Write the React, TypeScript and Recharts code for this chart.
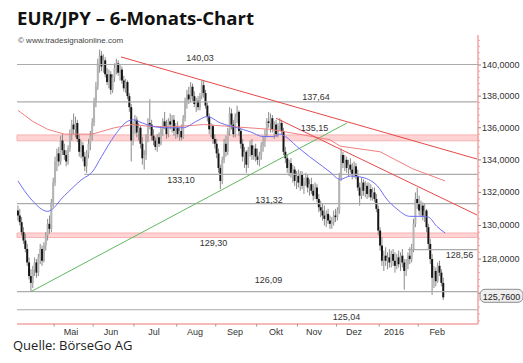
import React from 'react';
import {
  ComposedChart,
  Bar,
  Line,
  XAxis,
  YAxis,
  ReferenceLine,
  ReferenceArea,
  ReferenceDot,
} from 'recharts';

// daily bars: [open, high, low, close]
type Ohlc = [number, number, number, number];

const apr: Ohlc[] = [
  [130.9, 131.2, 130.3, 130.6], [130.6, 131.0, 130.0, 130.2], [130.2, 130.5, 129.4, 129.6],
  [129.6, 129.9, 128.9, 129.1], [129.1, 129.5, 128.4, 128.6], [128.6, 128.9, 127.6, 127.8],
  [127.8, 128.1, 126.8, 127.0], [127.0, 127.4, 126.1, 126.6], [126.6, 127.6, 126.3, 127.4],
  [127.4, 128.1, 127.0, 127.8], [127.8, 128.0, 126.9, 127.2], [127.2, 128.3, 127.0, 128.1],
  [128.1, 128.9, 127.7, 128.6], [128.6, 128.8, 127.6, 127.9], [127.9, 129.0, 127.8, 128.8],
  [128.8, 129.6, 128.5, 129.4], [129.4, 130.4, 129.1, 130.1], [130.1, 130.6, 129.5, 129.8],
  [129.8, 131.6, 129.6, 131.4], [131.4, 132.9, 131.1, 132.6],
];
const may: Ohlc[] = [
  [132.6, 134.2, 132.4, 133.9], [133.9, 134.7, 133.3, 134.4], [134.4, 134.8, 133.6, 133.9],
  [133.9, 135.5, 133.7, 135.2], [135.2, 135.6, 134.3, 134.6], [134.6, 135.0, 134.0, 134.3],
  [134.3, 134.6, 133.6, 133.9], [133.9, 134.9, 133.7, 134.7], [134.7, 135.9, 134.5, 135.6],
  [135.6, 136.5, 135.2, 136.2], [136.2, 136.9, 135.6, 135.9], [135.9, 136.7, 135.4, 136.3],
  [136.3, 136.5, 135.1, 135.3], [135.3, 135.6, 134.2, 134.5], [134.5, 135.2, 134.1, 134.9],
  [134.9, 135.1, 133.9, 134.2], [134.2, 134.5, 133.3, 133.6], [133.6, 134.6, 133.2, 134.4],
  [134.4, 135.3, 134.1, 135.0], [135.0, 135.8, 134.6, 135.5], [135.5, 136.6, 135.2, 136.3],
];
const jun: Ohlc[] = [
  [136.3, 137.9, 136.1, 137.6], [137.6, 138.9, 137.3, 138.6], [138.6, 140.4, 138.4, 140.1],
  [140.1, 141.0, 139.5, 140.6], [140.6, 140.9, 139.6, 139.9], [139.9, 140.7, 139.5, 140.3],
  [140.3, 140.5, 139.2, 139.4], [139.4, 139.8, 138.7, 138.9], [138.9, 139.7, 138.5, 139.4],
  [139.4, 139.6, 138.1, 138.4], [138.4, 139.4, 138.2, 139.2], [139.2, 140.1, 138.9, 139.8],
  [139.8, 140.4, 139.4, 140.1], [140.1, 140.3, 139.3, 139.5], [139.5, 140.0, 139.0, 139.7],
  [139.7, 139.9, 138.8, 139.0], [139.0, 139.3, 138.3, 138.5], [138.5, 139.1, 138.2, 138.9],
  [138.9, 139.0, 137.8, 138.0], [138.0, 138.2, 137.0, 137.3], [137.3, 137.5, 133.9, 135.2],
  [135.2, 136.4, 134.9, 136.1],
];
const jul: Ohlc[] = [
  [136.1, 136.8, 135.6, 136.5], [136.5, 136.7, 135.4, 135.7], [135.7, 136.3, 135.2, 136.0],
  [136.0, 136.1, 134.7, 135.0], [135.0, 135.4, 133.7, 134.1], [134.1, 134.6, 133.4, 134.3],
  [134.3, 135.6, 134.0, 135.4], [135.4, 136.6, 135.1, 136.3], [136.3, 137.8, 135.9, 136.2],
  [136.2, 136.5, 135.2, 135.5], [135.5, 135.9, 134.9, 135.2], [135.2, 135.4, 134.6, 134.8],
  [134.8, 135.6, 134.5, 135.4], [135.4, 135.7, 134.8, 135.0], [135.0, 136.1, 134.9, 135.9],
  [135.9, 136.6, 135.5, 136.4], [136.4, 137.0, 135.9, 136.1], [136.1, 136.5, 135.3, 135.6],
  [135.6, 136.6, 135.4, 136.4], [136.4, 136.9, 135.9, 136.2], [136.2, 136.8, 135.7, 136.5],
  [136.5, 136.8, 135.5, 135.8], [135.8, 136.3, 135.3, 136.0],
];
const aug: Ohlc[] = [
  [136.0, 136.4, 135.4, 135.6], [135.6, 136.0, 135.2, 135.8], [135.8, 136.2, 135.2, 135.4],
  [135.4, 136.8, 135.3, 136.6], [136.6, 137.9, 136.4, 137.7], [137.7, 138.4, 137.2, 138.1],
  [138.1, 138.6, 137.5, 137.8], [137.8, 138.9, 137.6, 138.6], [138.6, 138.8, 137.7, 138.0],
  [138.0, 138.3, 137.3, 137.5], [137.5, 137.9, 137.0, 137.7], [137.7, 138.0, 137.1, 137.3],
  [137.3, 138.2, 137.1, 138.0], [138.0, 139.0, 137.8, 138.7], [138.7, 139.0, 137.9, 138.2],
  [138.2, 138.4, 137.2, 137.4], [137.4, 137.6, 136.4, 136.7], [136.7, 136.9, 135.6, 135.9],
  [135.9, 136.3, 135.4, 136.1], [136.1, 136.2, 135.0, 135.3], [135.3, 135.6, 134.7, 135.0],
];
const sep: Ohlc[] = [
  [135.0, 135.3, 134.1, 134.4], [134.4, 134.7, 133.2, 133.5], [133.5, 133.7, 132.2, 132.7],
  [132.7, 134.2, 132.5, 134.0], [134.0, 135.3, 133.8, 135.0], [135.0, 135.5, 134.2, 134.5],
  [134.5, 136.0, 134.3, 135.8], [135.8, 137.3, 135.5, 136.9], [136.9, 137.2, 135.9, 136.2],
  [136.2, 136.5, 135.4, 135.6], [135.6, 136.9, 135.4, 136.7], [136.7, 137.4, 136.3, 137.0],
  [137.0, 137.1, 135.5, 135.8], [135.8, 136.0, 134.7, 135.0], [135.0, 135.3, 133.9, 134.2],
  [134.2, 134.8, 133.5, 134.5], [134.5, 134.6, 133.2, 133.7], [133.7, 134.8, 133.5, 134.6],
  [134.6, 135.2, 134.2, 134.9], [134.9, 135.3, 134.0, 134.3], [134.3, 134.9, 134.0, 134.7],
  [134.7, 135.0, 133.9, 134.2],
];
const oct: Ohlc[] = [
  [134.2, 134.7, 133.7, 134.0], [134.0, 134.5, 133.6, 134.3], [134.3, 135.1, 134.0, 134.9],
  [134.9, 135.5, 134.5, 135.2], [135.2, 135.9, 134.8, 135.6], [135.6, 136.6, 135.4, 136.4],
  [136.4, 137.0, 136.0, 136.3], [136.3, 136.9, 135.7, 136.6], [136.6, 136.8, 135.7, 135.9],
  [135.9, 136.4, 135.3, 136.2], [136.2, 136.5, 135.4, 135.6], [135.6, 136.3, 135.4, 136.1],
  [136.1, 136.6, 135.8, 136.3], [136.3, 136.5, 135.6, 135.8], [135.8, 136.0, 134.3, 134.5],
  [134.5, 134.8, 133.8, 134.1], [134.1, 134.3, 133.2, 133.5], [133.5, 134.0, 133.0, 133.8],
  [133.8, 134.1, 132.9, 133.2], [133.2, 133.7, 132.6, 133.4], [133.4, 133.6, 132.4, 132.7],
  [132.7, 133.3, 132.2, 133.0],
];
const nov: Ohlc[] = [
  [133.0, 133.4, 132.3, 132.6], [132.6, 133.3, 132.1, 133.1], [133.1, 133.3, 132.2, 132.4],
  [132.4, 132.9, 131.9, 132.6], [132.6, 133.2, 132.4, 132.9], [132.9, 133.1, 132.0, 132.3],
  [132.3, 132.8, 131.8, 132.5], [132.5, 132.9, 131.9, 132.1], [132.1, 132.5, 131.5, 131.8],
  [131.8, 132.6, 131.6, 132.3], [132.3, 132.5, 131.4, 131.6], [131.6, 131.9, 130.8, 131.1],
  [131.1, 131.5, 130.5, 130.9], [130.9, 131.3, 130.3, 130.6], [130.6, 131.2, 130.0, 130.4],
  [130.4, 130.9, 129.9, 130.7], [130.7, 131.0, 130.1, 130.3], [130.3, 130.6, 129.8, 130.1],
  [130.1, 130.5, 129.8, 130.2], [130.2, 130.9, 130.0, 130.6], [130.6, 131.0, 130.2, 130.5],
];
const dec: Ohlc[] = [
  [130.5, 131.1, 130.3, 130.9], [130.9, 133.2, 130.7, 132.9], [132.9, 134.7, 132.7, 134.3],
  [134.3, 134.5, 133.5, 133.8], [133.8, 134.3, 133.3, 134.0], [134.0, 134.2, 133.2, 133.5],
  [133.5, 134.0, 133.0, 133.7], [133.7, 134.1, 133.2, 133.4], [133.4, 133.8, 132.8, 133.1],
  [133.1, 133.9, 132.9, 133.6], [133.6, 133.8, 132.8, 133.0], [133.0, 133.4, 132.1, 132.3],
  [132.3, 132.6, 131.2, 131.8], [131.8, 132.9, 131.6, 132.6], [132.6, 132.8, 131.8, 132.1],
  [132.1, 132.7, 131.7, 132.4], [132.4, 132.6, 131.6, 131.9], [131.9, 132.6, 131.7, 132.2],
  [132.2, 132.5, 131.5, 131.7], [131.7, 132.3, 131.5, 132.0], [132.0, 132.3, 131.4, 131.6],
  [131.6, 131.9, 130.8, 131.0], [131.0, 131.2, 129.4, 129.7],
];
const jan: Ohlc[] = [
  [129.7, 129.9, 128.5, 128.8], [128.8, 129.3, 127.6, 127.9], [127.9, 128.5, 127.3, 128.2],
  [128.2, 128.7, 127.6, 127.9], [127.9, 128.4, 127.4, 128.1], [128.1, 128.6, 127.5, 127.8],
  [127.8, 128.5, 127.5, 128.3], [128.3, 128.6, 127.6, 127.9], [127.9, 128.4, 127.2, 127.6],
  [127.6, 128.3, 127.4, 128.1], [128.1, 128.5, 127.5, 127.7], [127.7, 128.4, 127.3, 128.2],
  [128.2, 128.6, 127.5, 127.8], [127.8, 128.0, 126.2, 127.3], [127.3, 128.0, 127.0, 127.7],
  [127.7, 128.4, 127.4, 128.2], [128.2, 128.7, 127.7, 128.0], [128.0, 128.9, 127.8, 128.6],
  [128.6, 130.4, 128.4, 130.1], [130.1, 132.0, 129.9, 131.6], [131.6, 132.3, 131.0, 131.3],
];
const feb: Ohlc[] = [
  [131.3, 131.8, 130.6, 130.9], [130.9, 131.5, 130.5, 131.2], [131.2, 131.4, 130.3, 130.6],
  [130.6, 131.3, 130.2, 130.9], [130.9, 131.0, 129.6, 129.9], [129.9, 130.1, 128.6, 128.9],
  [128.9, 129.2, 127.7, 128.0], [128.0, 128.3, 125.9, 126.9], [126.9, 127.6, 126.3, 127.3],
  [127.3, 127.5, 126.4, 126.7], [126.7, 127.8, 126.6, 127.6], [127.6, 127.9, 127.0, 127.2],
  [127.2, 127.4, 126.4, 126.6], [126.6, 126.9, 125.6, 125.76],
];

// moving averages: [bar index, value]
const maBlue: [number, number][] = [
  [0, 132.7], [7, 131.6], [16, 130.85], [25, 131.8], [34.5, 132.8], [40, 133.25],
  [45, 134.2], [52, 135.5], [59, 136.4], [62, 136.5], [67, 136.3], [74, 136.05],
  [81, 136.0], [89, 136.0], [96, 136.4], [102, 136.7], [109, 136.3], [118, 136.0],
  [125, 135.75], [132, 135.45], [137.5, 135.45], [141, 135.6], [144, 135.45],
  [150, 134.85], [157, 134.2], [164, 133.6], [168, 133.25], [173.5, 132.8],
  [179, 133.0], [184, 132.95], [193.5, 132.4], [198.5, 131.6], [204, 131.0],
  [211, 130.55], [216.5, 130.55], [221, 130.5], [225.5, 129.95], [230, 129.55],
];
const maRed: [number, number][] = [
  [0, 137.1], [8, 136.4], [16, 135.9], [25, 135.6], [40, 135.6], [52, 136.0],
  [61.5, 136.2], [70, 136.1], [82, 136.05], [100, 136.2], [118, 136.05],
  [136, 135.9], [153.5, 135.55], [168, 135.25], [173.5, 134.85], [195, 134.5],
  [212.5, 133.45], [230, 132.7],
];

// trend lines: [bar index, value]
const trendHigh: [number, number][] = [[55.5, 140.52], [247.2, 134.05]];
const trendOct: [number, number][] = [[139.0, 136.6], [247.2, 130.63]];
const trendLow: [number, number][] = [[7.0, 126.09], [177.2, 136.3]];

const levels = [140.03, 137.64, 131.32, 126.09, 125.04];
const zones: [number, number][] = [[135.18, 135.55], [129.28, 129.55]];

const monthNames = ['Mai', 'Jun', 'Jul', 'Aug', 'Sep', 'Okt', 'Nov', 'Dez', '2016', 'Feb'];
const monthMid = [28.6, 50.1, 73.3, 95.4, 116.9, 139, 159.4, 181, 202.5, 225.7];
const monthStart = [19.5, 40.5, 62.5, 85.5, 106.5, 128.5, 150.5, 171.5, 194.5, 215.5];

const lastPrice = 125.76;

const candles = [apr, may, jun, jul, aug, sep, oct, nov, dec, jan, feb]
  .flat()
  .map((b, i) => ({ i, o: b[0], h: b[1], l: b[2], c: b[3] }));
const toPts = (arr: [number, number][]) => arr.map(([i, v]) => ({ i, v }));

const yTicks = Array.from({ length: 44 }, (_, k) => +(124.4 + k * 0.4).toFixed(1));
const fmt = (v: number, d: number) => v.toFixed(d).replace('.', ',');

const PINK = '#f5a3a3';
const GREY_LINE = '#ababab';

function Candle(props: any) {
  const { x, y, width, height, payload } = props;
  if (!payload || height == null || isNaN(y)) return null;
  const top = Math.min(y, y + height);
  const h = Math.abs(height);
  const cx = x + width / 2;
  const lh = Math.log(payload.h);
  const ll = Math.log(payload.l);
  const py = (v: number) => top + (h * (lh - Math.log(v))) / (lh - ll || 1);
  const bTop = py(Math.max(payload.o, payload.c));
  const bBot = py(Math.min(payload.o, payload.c));
  const down = payload.c < payload.o;
  return (
    <g>
      <line x1={cx} x2={cx} y1={top} y2={top + h} stroke="#8a8a8a" strokeWidth={1} />
      <rect
        x={cx - 1}
        y={bTop}
        width={2}
        height={Math.max(1, bBot - bTop)}
        fill={down ? '#151515' : '#b4b4b4'}
      />
    </g>
  );
}

function MonthTick(props: any) {
  const { x, y, payload } = props;
  const k = monthMid.indexOf(payload.value);
  if (k < 0) {
    return <line x1={x} x2={x} y1={y} y2={y + 2.5} stroke="#999" strokeWidth={1} />;
  }
  return (
    <text x={x} y={y + 11} textAnchor="middle" fontSize={9} fill="#333">
      {monthNames[k]}
    </text>
  );
}

function PriceTick(props: any) {
  const { x, y, payload } = props;
  const v = payload.value;
  if (Math.abs(v % 2) > 0.01) {
    return <line x1={x} x2={x + 2} y1={y} y2={y} stroke={PINK} strokeWidth={1} />;
  }
  return (
    <g>
      <line x1={x} x2={x + 3} y1={y} y2={y} stroke="#888" strokeWidth={1} />
      <text x={x + 4} y={y + 3} fontSize={9} fill="#333">
        {fmt(v, 4)}
      </text>
    </g>
  );
}

function PriceTag(props: any) {
  const vb = props.viewBox;
  if (!vb) return null;
  const x = vb.x + vb.width + 2;
  const y = vb.y;
  return (
    <g>
      <rect x={x} y={y - 8} width={43} height={13} rx={5} fill="#eeeeee" stroke="#8c8c8c" />
      <text x={x + 21.5} y={y + 2.5} textAnchor="middle" fontSize={9} fill="#222">
        {fmt(lastPrice, 4)}
      </text>
    </g>
  );
}

const lbl = (value: string, position: 'top' | 'bottom', offset: number) => ({
  value,
  position,
  offset,
  fontSize: 9,
  fill: '#333',
});

export default function App() {
  return (
    <div style={{ position: 'absolute', left: 0, top: 0, width: 523, height: 363, background: '#fff' }}>
      <ComposedChart
        width={523}
        height={363}
        data={candles}
        margin={{ top: 35, right: 0, bottom: 19, left: 17 }}
        style={{ fontFamily: '"Liberation Sans", Arial, sans-serif' }}
      >
        <XAxis
          dataKey="i"
          type="number"
          domain={[-0.5, 247.7]}
          allowDataOverflow
          ticks={[...monthStart, ...monthMid]}
          interval={0}
          tickLine={false}
          tickSize={0}
          tickMargin={0}
          axisLine={{ stroke: PINK, strokeWidth: 1.5 }}
          tick={<MonthTick />}
          height={20}
        />
        <YAxis
          orientation="right"
          type="number"
          scale="log"
          domain={[124.22, 141.95]}
          allowDataOverflow
          ticks={yTicks}
          interval={0}
          tickLine={false}
          tickSize={0}
          tickMargin={0}
          axisLine={{ stroke: PINK, strokeWidth: 1.5 }}
          tick={<PriceTick />}
          width={45}
        />
        {zones.map(([a, b]) => (
          <ReferenceArea key={a} y1={a} y2={b} fill="#ffd3d3" fillOpacity={1} stroke="#f6b3b3" strokeWidth={1} />
        ))}
        {levels.map((v) => (
          <ReferenceLine key={v} y={v} stroke={GREY_LINE} strokeWidth={1.2} />
        ))}
        <ReferenceLine segment={[{ x: 35.8, y: 133.1 }, { x: 247.7, y: 133.1 }]} stroke={GREY_LINE} strokeWidth={1.2} />
        <ReferenceLine segment={[{ x: 210, y: 128.56 }, { x: 247.7, y: 128.56 }]} stroke={GREY_LINE} strokeWidth={1.2} />

        <Line data={toPts(trendLow)} dataKey="v" stroke="#62b862" strokeWidth={1} dot={false} isAnimationActive={false} />
        <Line data={toPts(maRed)} dataKey="v" stroke="#f07f7f" strokeWidth={1} dot={false} isAnimationActive={false} />
        <Line data={toPts(maBlue)} dataKey="v" type="monotone" stroke="#6e6ef2" strokeWidth={1} dot={false} isAnimationActive={false} />
        <Bar
          dataKey={(d: any) => [d.l, d.h]}
          barSize={2}
          shape={(p: any) => <Candle {...p} />}
          isAnimationActive={false}
        />
        <Line data={toPts(trendHigh)} dataKey="v" stroke="#e64848" strokeWidth={1} dot={false} isAnimationActive={false} />
        <Line data={toPts(trendOct)} dataKey="v" stroke="#e64848" strokeWidth={1} dot={false} isAnimationActive={false} />

        <ReferenceDot x={98} y={140.03} r={1} fill="none" stroke="none" label={lbl('140,03', 'top', 2)} />
        <ReferenceDot x={160.5} y={137.64} r={1} fill="none" stroke="none" label={lbl('137,64', 'top', 1)} />
        <ReferenceDot x={159.7} y={135.55} r={1} fill="none" stroke="none" label={lbl('135,15', 'top', 3)} />
        <ReferenceDot x={87.8} y={133.1} r={1} fill="none" stroke="none" label={lbl('133,10', 'bottom', 1.5)} />
        <ReferenceDot x={135.2} y={131.32} r={1} fill="none" stroke="none" label={lbl('131,32', 'top', 0)} />
        <ReferenceDot x={105.3} y={129.3} r={1} fill="none" stroke="none" label={lbl('129,30', 'bottom', 1)} />
        <ReferenceDot x={237.8} y={128.56} r={1} fill="none" stroke="none" label={lbl('128,56', 'bottom', 1)} />
        <ReferenceDot x={134.9} y={126.09} r={1} fill="none" stroke="none" label={lbl('126,09', 'top', 7.5)} />
        <ReferenceDot x={176.9} y={125.04} r={1} fill="none" stroke="none" label={lbl('125,04', 'bottom', 2.5)} />
        <ReferenceLine y={lastPrice} strokeOpacity={0} label={<PriceTag />} {...({ zIndex: 2000 } as any)} />
      </ComposedChart>
      <svg
        width={523}
        height={363}
        style={{ position: 'absolute', left: 0, top: 0, pointerEvents: 'none' }}
      >
        <text x={17} y={25} fontFamily='"Open Sans", sans-serif' fontWeight={700} fontSize={18.6} fill="#111">
          EUR/JPY – 6-Monats-Chart
        </text>
        <text x={18} y={42.5} fontFamily='"Liberation Sans", Arial, sans-serif' fontSize={8} fill="#444">
          © www.tradesignalonline.com
        </text>
        <text x={13} y={350} fontFamily='"Open Sans", sans-serif' fontSize={13} fill="#222">
          Quelle: BörseGo AG
        </text>
      </svg>
    </div>
  );
}
